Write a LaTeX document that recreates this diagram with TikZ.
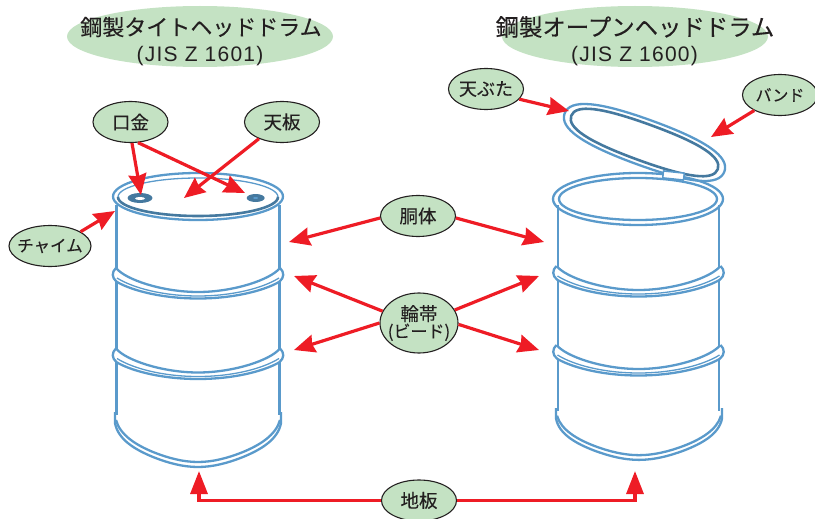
\documentclass[tikz,border=0pt]{standalone}
\usepackage{fontspec}
\setmainfont{Liberation Sans}
\newfontfamily\cjk[FakeBold=0.12]{Noto Sans CJK JP}
\usetikzlibrary{arrows.meta,shapes.geometric}
\definecolor{drumblue}{HTML}{5A9ACB}
\definecolor{drumdark}{HTML}{45799F}
\definecolor{arrowred}{HTML}{EE1C25}
\definecolor{labelgreen}{HTML}{C4E2C3}
\definecolor{inkdark}{HTML}{231F20}
\tikzset{
  x=1pt,y=-1pt,
  drum/.style={draw=drumblue,line width=2.3pt,line join=round},
  drumthin/.style={draw=drumblue,line width=1.3pt},
  rimdark/.style={draw=drumdark,line width=2.6pt},
  part/.style={ellipse,draw=inkdark,line width=1.1pt,fill=labelgreen,inner sep=0pt,minimum width=75pt,minimum height=41pt,text=inkdark,font=\cjk\fontsize{18.5}{21}\selectfont,align=center},
  band/.style={ellipse,fill=labelgreen,inner sep=0pt,minimum width=266pt,minimum height=61pt},
  titletext/.style={inner sep=0pt,text=inkdark,font=\cjk\fontsize{22}{26}\selectfont},
  jistext/.style={inner sep=0pt,text=inkdark,font=\fontsize{21}{24}\selectfont\addfontfeature{LetterSpace=6}},
  callout/.style={draw=arrowred,line width=3.2pt,-{Stealth[length=21pt,width=18pt,inset=2pt]}},
  bead/.pic={
    \draw[drum] (-82,-7) .. controls (-72,5) and (-35,17) .. (0,17) .. controls (35,17) and (72,5) .. (82,-7);
    \draw[drum] (-82,-7) .. controls (-86.5,-3) and (-86.5,3) .. (-81,7) .. controls (-65,16) and (-35,23.5) .. (0,23.5) .. controls (35,23.5) and (65,16) .. (81,7) .. controls (86.5,3) and (86.5,-3) .. (82,-7);
    \draw[drumthin] (-81,3) .. controls (-65,13) and (-35,21) .. (0,21) .. controls (35,21) and (65,13) .. (81,3);
  },
  drumbase/.pic={
    \draw[drum] (-82,5) .. controls (-78,20) and (-62,30) .. (-45,37) .. controls (-30,43) and (-15,47) .. (0,47) .. controls (15,47) and (30,43) .. (45,37) .. controls (62,30) and (78,20) .. (82,5);
    \draw[drum] (-83,-3) -- (-83,8) .. controls (-80,25) and (-62,35) .. (-45,42) .. controls (-30,48) and (-15,52) .. (0,52) .. controls (15,52) and (30,48) .. (45,42) .. controls (62,35) and (80,25) .. (83,8) -- (83,-3);
  }
}
\begin{document}
\begin{tikzpicture}
\useasboundingbox (0,0) rectangle (815,519);
% title ovals
\node[band] (leftband) at (200,36.5) {};
\node[band] (rightband) at (635,36.5) {};
\node[titletext] (lefttitle) at (201,27) {鋼製タイトヘッドドラム};
\node[jistext] (leftjis) at (200,56) {(JIS Z 1601)};
\node[titletext,font=\cjk\fontsize{23.4}{26}\selectfont] (righttitle) at (635,27) {鋼製オープンヘッドドラム};
\node[jistext] (rightjis) at (634.5,56) {(JIS Z 1600)};
% left drum
\draw[drum] (116.5,205) -- (116.5,270) (279.5,205) -- (279.5,270);
\draw[drum] (116.5,282) -- (116.5,350) (279.5,282) -- (279.5,350);
\draw[drum] (116.5,362) -- (116.5,415) (279.5,362) -- (279.5,415);
\pic at (198,275) {bead};
\pic at (198,355.5) {bead};
\pic at (198,415) {drumbase};
\draw[drum] (198,196.5) ellipse [x radius=85,y radius=23.5];
\draw[drumthin] (198,197) ellipse [x radius=80,y radius=19];
\draw[rimdark] (118,197) arc [start angle=180,end angle=360,x radius=80,y radius=-19];
\node[ellipse,fill=drumdark,minimum width=25pt,minimum height=10pt,inner sep=0pt] (holeA) at (140,198) {};
\node[ellipse,fill=white,minimum width=10pt,minimum height=3pt,inner sep=0pt] (holeAin) at (140,198.5) {};
\node[ellipse,fill=drumdark,minimum width=18pt,minimum height=8pt,inner sep=0pt] (holeB) at (255.7,198) {};
\node[ellipse,fill=drumblue,minimum width=5pt,minimum height=2pt,inner sep=0pt] (holeBin) at (255.7,198) {};
% right drum
\draw[drum] (558,205) -- (558,268) (719,205) -- (719,268);
\draw[drum] (558,280) -- (558,347) (719,280) -- (719,347);
\draw[drum] (558,359) -- (558,411) (719,359) -- (719,411);
\pic at (638.5,273) {bead};
\pic at (638.5,352) {bead};
\pic[yscale=.94] at (639,411) {drumbase};
\draw[drum] (638,199) ellipse [x radius=85,y radius=26];
\draw[drum] (638,199) ellipse [x radius=79,y radius=21];
% lid
\begin{scope}[shift={(644.5,142.5)},rotate=-20]
\draw[drum] (-85,0) .. controls (-85,-15.6) and (-57.8,-23) .. (0,-23) .. controls (57.8,-23) and (85,-15.6) .. (85,0) .. controls (85,15.6) and (57.8,23) .. (0,23) .. controls (-57.8,23) and (-85,15.6) .. (-85,0) -- cycle;
\draw[rimdark] (-78,0) .. controls (-78,-12.6) and (-53,-18.5) .. (0,-18.5) .. controls (53,-18.5) and (78,-12.6) .. (78,0) .. controls (78,12.6) and (53,18.5) .. (0,18.5) .. controls (-53,18.5) and (-78,12.6) .. (-78,0) -- cycle;
\end{scope}
\draw[drum,fill=white,line width=1.6pt,rotate around={-6:(673.5,175.5)}] (663,172) rectangle (684,179);
% parts
\node[part] (kuchi) at (130.5,122) {口金};
\node[part] (ten) at (282,122) {天板};
\node[part,minimum width=82pt,font=\cjk\fontsize{16.5}{20}\selectfont] (chime) at (50,246) {\makebox[0pt]{チャイム}};
\node[part] (body) at (418,216) {胴体};
\node[part,minimum width=78pt,minimum height=60pt,font=\cjk\fontsize{18.5}{17}\selectfont] (bead) at (419,323) {\makebox[0pt]{輪帯}\\\makebox[0pt]{\fontsize{17}{17}\selectfont (ビード)}};
\node[part] (bottom) at (419,500.5) {地板};
\node[part,font=\cjk\fontsize{18}{21}\selectfont] (lidpart) at (486,89) {\makebox[0pt]{天ぶた}};
\node[part,font=\cjk\fontsize{16}{20}\selectfont] (bandpart) at (780,95) {\makebox[0pt]{バンド}};
% arrow ends
\coordinate (tipA) at (141,195);
\coordinate (tipB) at (245,193);
\coordinate (tipC) at (184,198);
\coordinate (tipD) at (115,211);
\coordinate (tipE) at (289,242);
\coordinate (tipF) at (544,242);
\coordinate (tipG) at (294,276);
\coordinate (tipH) at (539,276);
\coordinate (tipI) at (294,350);
\coordinate (tipJ) at (539,350);
\coordinate (tipK) at (569,111);
\coordinate (tipL) at (711,137);
\coordinate (tipM) at (199,471);
\coordinate (tipN) at (635,471);
% connectors
\draw[callout] (kuchi.-86) -- (tipA);
\draw[callout] (kuchi.-70) -- (tipB);
\draw[callout] (ten.216) -- (tipC);
\draw[callout] (chime.25) -- (tipD);
\draw[callout] (body.183) -- (tipE);
\draw[callout] (body.-3) -- (tipF);
\draw[callout] (bead.162) -- (tipG);
\draw[callout] (bead.20) -- (tipH);
\draw[callout] (bead.180) -- (tipI);
\draw[callout] (bead.-2) -- (tipJ);
\draw[callout] (lidpart.-17) -- (tipK);
\draw[callout] (bandpart.211) -- (tipL);
\draw[callout,-{Stealth[length=23pt,width=17pt,inset=0pt]}] (bottom.west) -| (tipM);
\draw[callout,-{Stealth[length=23pt,width=17pt,inset=0pt]}] (bottom.east) -| (tipN);
\end{tikzpicture}
\end{document}
